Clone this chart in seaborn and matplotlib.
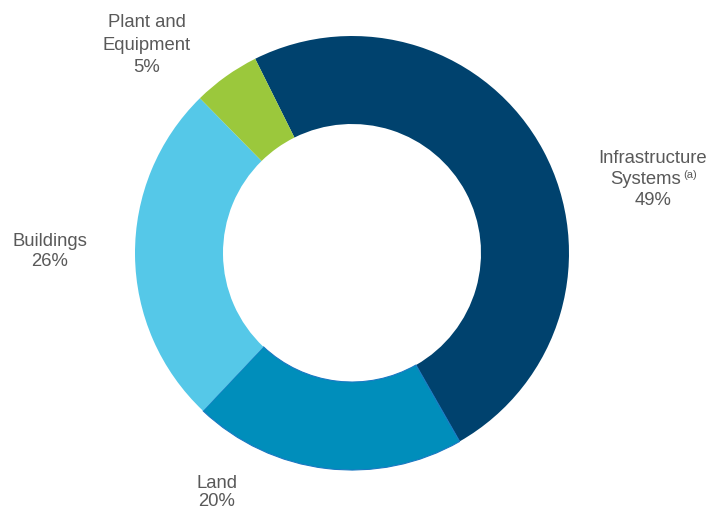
import matplotlib
matplotlib.use("Agg")
import matplotlib.pyplot as plt
import seaborn as sns

# ---------- data (clockwise from the top) ----------
categories = ["Infrastructure Systems", "Land", "Buildings", "Plant and Equipment"]
shares = [49.1, 20.3, 25.6, 5.0]
pct_labels = ["49%", "20%", "26%", "5%"]
colors = ["#00426E", "#008EBB", "#55C8E8", "#9BC83C"]

sns.set_theme(style="white")
plt.rcParams["font.family"] = ["Liberation Sans", "DejaVu Sans"]

fig = plt.figure(figsize=(7.11, 5.11), dpi=100)
ax = fig.add_axes([0, 0, 1, 1])

wedges, _ = ax.pie(
    shares,
    colors=colors,
    startangle=116.5,
    counterclock=False,
    center=(352, 258),
    radius=217,
    wedgeprops=dict(width=88, linewidth=0),
    frame=True,
)
# thin darker rim on the Land slice
wedges[1].set_edgecolor("#1A78C2")
wedges[1].set_linewidth(0.8)
ax.set_xlim(0, 711)
ax.set_ylim(0, 511)
ax.set_aspect("equal")
ax.axis("off")

txt = dict(color="#595959", fontsize=13.3, ha="center", va="center")
H = 511

ax.text(653, H - 158, "Infrastructure", **txt)
ax.text(646, H - 179, "Systems", **txt)
ax.text(690, H - 175, "(a)", color="#595959", fontsize=8, ha="center", va="center")
ax.text(653, H - 200, pct_labels[0], **txt)

ax.text(147, H - 22, "Plant and", **txt)
ax.text(147, H - 45, "Equipment", **txt)
ax.text(147, H - 67, pct_labels[3], **txt)

ax.text(50, H - 241, "Buildings", **txt)
ax.text(50, H - 262, pct_labels[2], **txt)

ax.text(217, H - 484, "Land", **txt)
ax.text(217, H - 502, pct_labels[1], **txt)

fig.savefig("out.png", dpi=100, facecolor="white")
